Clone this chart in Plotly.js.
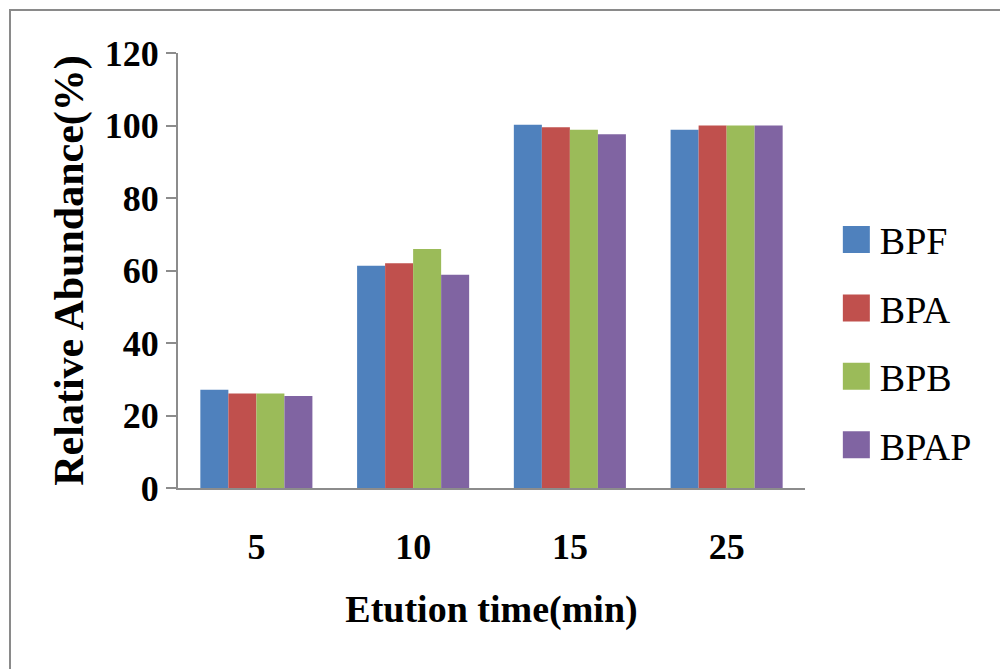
<!DOCTYPE html>
<html>
<head>
<meta charset="utf-8">
<script src="https://cdn.plot.ly/plotly-3.0.1.min.js"></script>
<style>
  html, body { margin: 0; padding: 0; background: #fff; }
  #wrap { position: relative; width: 1000px; height: 669px; overflow: hidden; }
  #frame { position: absolute; left: 9px; top: 9px; width: 1000px; height: 700px;
           border-top: 2px solid #8a8a8a; border-left: 2px solid #8a8a8a; box-sizing: border-box; pointer-events: none; z-index: 5; }
  #chart { position: absolute; left: 0; top: 0; width: 1000px; height: 669px; }
  #chart .legendtext { font-family: "Liberation Serif", "Times New Roman", serif !important; }
</style>
</head>
<body>
<div id="wrap">
  <div id="chart"></div>
  <div id="frame"></div>
</div>
<script>
const categories = ["5", "10", "15", "25"];
const seriesNames = ["BPF", "BPA", "BPB", "BPAP"];
const BPF  = [27.1, 61.3, 100.2, 98.8];
const BPA  = [26.1, 62.0, 99.5, 100.0];
const BPB  = [26.1, 65.9, 98.8, 100.0];
const BPAP = [25.4, 58.8, 97.6, 100.0];
const colors = ["#4F81BD", "#C0504D", "#9BBB59", "#8064A2"];
const yTicks = [0, 20, 40, 60, 80, 100, 120];

const seriesValues = [BPF, BPA, BPB, BPAP];
const font = "Liberation Serif";

const traces = seriesNames.map((name, i) => ({
  type: "bar",
  name: name,
  x: categories,
  y: seriesValues[i],
  legendgroup: name,
  marker: { color: colors[i], line: { width: 0 } },
  hoverinfo: "x+y+name"
}));

const layout = {
  width: 1000,
  height: 669,
  font: { family: font, color: "#000" },
  margin: { l: 178, r: 195, t: 53, b: 181 },
  paper_bgcolor: "#ffffff",
  plot_bgcolor: "#ffffff",
  barmode: "group",
  bargap: 0.285,
  bargroupgap: 0,
  showlegend: true,
  legend: {
    x: 1.046, xanchor: "left",
    y: 0.335, yanchor: "middle",
    font: { family: font, size: 38, color: "#000" },
    tracegroupgap: 16,
    itemwidth: 36
  },
  xaxis: {
    type: "category",
    showline: true,
    linecolor: "#8c8c8c",
    linewidth: 2,
    ticks: "",
    showgrid: false,
    zeroline: false,
    tickfont: { family: font, size: 36, color: "#000", weight: "bold" },
    ticklabelstandoff: 26,
    title: {
      text: "<b>Etution time(min)</b>",
      font: { family: font, size: 38, color: "#000" },
      standoff: 29
    }
  },
  yaxis: {
    range: [0, 120],
    tickvals: yTicks,
    ticktext: yTicks.map(String),
    showline: true,
    linecolor: "#8c8c8c",
    linewidth: 2,
    ticks: "outside",
    ticklen: 10,
    tickwidth: 2,
    tickcolor: "#8c8c8c",
    showgrid: false,
    zeroline: false,
    tickfont: { family: font, size: 36, color: "#000", weight: "bold" },
    title: {
      text: "<b>Relative Abundance(%)</b>",
      font: { family: font, size: 42, color: "#000" },
      standoff: 8
    }
  }
};

Plotly.newPlot("chart", traces, layout, { displayModeBar: false, staticPlot: true }).then(gd => {
  // enlarge the legend swatches to match the reference's larger squares
  gd.querySelectorAll(".legendpoints path").forEach(p => {
    p.setAttribute("d", "M13,13.5H-14V-13.5H13Z");
  });
});
</script>
</body>
</html>
